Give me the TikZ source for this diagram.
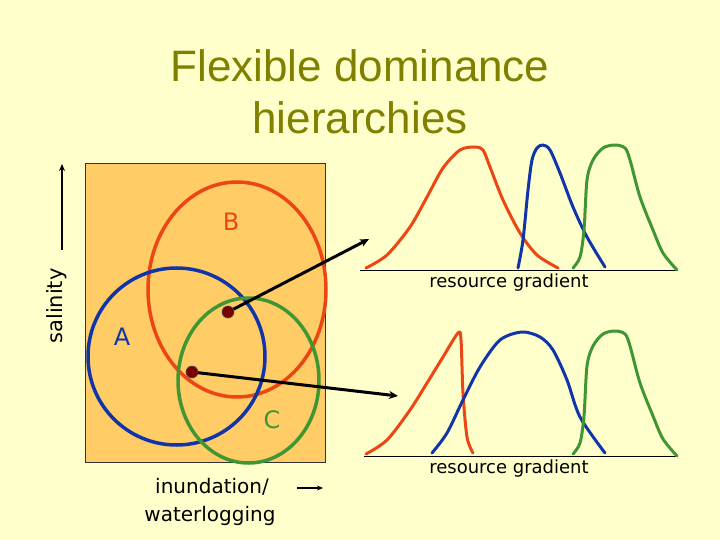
\documentclass[tikz,border=0pt]{standalone}
\usepackage{fontspec}
\setmainfont{Liberation Sans}
\newfontfamily\lblfont{DejaVu Sans}
\usetikzlibrary{arrows.meta}
\definecolor{bgyellow}{RGB}{255,255,204}
\definecolor{boxorange}{RGB}{255,204,102}
\definecolor{cred}{RGB}{236,70,20}
\definecolor{cblue}{RGB}{16,52,170}
\definecolor{cgreen}{RGB}{64,150,50}
\definecolor{olive}{RGB}{128,128,0}
\definecolor{dotred}{RGB}{120,0,0}
\tikzset{
  curve/.style={line width=3pt, line cap=round, line join=round},
  niche/.style={line width=3.5pt},
  pointer/.style={line width=3pt, -{Stealth[length=9pt,width=8pt]}},
  lbl/.style={font=\lblfont\fontsize{18}{20}\selectfont, inner sep=0pt},
  letter/.style={font=\lblfont\fontsize{24}{26}\selectfont, inner sep=0pt},
  sitedot/.style={circle, fill=dotred, draw=black!70, line width=0.6pt, minimum size=12pt, inner sep=0pt},
}
\begin{document}
\begin{tikzpicture}[x=1pt,y=-1pt]
\fill[bgyellow] (0,0) rectangle (720,540);
\useasboundingbox (0,0) rectangle (720,540);
% title
\node[anchor=base, text=olive, font=\fontsize{44}{50}\selectfont, inner sep=0pt] (t1) at (360,82) {Flexible dominance};
\node[anchor=base, text=olive, font=\fontsize{44}{50}\selectfont, inner sep=0pt] (t2) at (360,134) {hierarchies};
% habitat box
\draw[fill=boxorange, draw=black!80, line width=0.8pt] (85,163) rectangle (325,462);
% niches
\draw[cred, niche] (237,289.5) ellipse [x radius=89, y radius=107.5];
\draw[cblue, niche] (176.5,356.5) ellipse [x radius=88.5, y radius=88.5];
\draw[cgreen, niche] (248.5,380.5) ellipse [x radius=70.5, y radius=82.5];
\node[letter, text=cred] (B) at (231,222) {B};
\node[letter, text=cblue] (A) at (122,337) {A};
\node[letter, text=cgreen] (C) at (272,420) {C};
% sites and arrows
\coordinate (e1) at (369,239);
\coordinate (e2) at (398,396);
\draw[pointer] (228,312) -- (e1);
\draw[pointer] (192,372) -- (e2);
\node[sitedot] (s1) at (228,312) {};
\node[sitedot] (s2) at (192,372) {};
% salinity
\node[lbl, rotate=90, font=\lblfont\fontsize{21}{24}\selectfont] (sal) at (57,306) {salinity};
\coordinate (sa0) at (62,250);
\coordinate (sa1) at (62,164);
\draw[line width=1.8pt, -{Stealth[length=7pt,width=6pt]}] (sa0) -- (sa1);
% inundation
\node[lbl, anchor=base, font=\lblfont\fontsize{20}{22}\selectfont] (inu) at (212,493) {inundation/};
\node[lbl, anchor=base, font=\lblfont\fontsize{20}{22}\selectfont] (wat) at (210,521) {waterlogging};
\coordinate (ia0) at (297,488);
\coordinate (ia1) at (323,488);
\draw[line width=1.5pt, -{Stealth[length=6pt,width=5pt]}] (ia0) -- (ia1);
% top graph
\coordinate (ax1a) at (360,270);
\coordinate (ax1b) at (676,270);
\draw[line width=1pt] (ax1a) -- (ax1b);
\node[lbl, anchor=base] (rg1) at (509,287) {resource gradient};
\draw[curve, cred] plot[smooth, tension=0.5] coordinates {(366,268) (387,255) (410,227) (427,197) (443,168) (460,150) (475,147) (483,150) (490,167) (503,200) (520,233) (537,255) (558,268)};
\draw[curve, cblue] plot[smooth, tension=0.5] coordinates {(518,268) (523,240) (528,190) (532,160) (537,148) (543,145) (550,150) (560,173) (573,207) (587,237) (605,267)};
\draw[curve, cgreen] plot[smooth, tension=0.5] coordinates {(573,268) (580,257) (584,230) (587,180) (593,160) (603,148) (615,145) (625,148) (630,160) (640,197) (653,230) (663,253) (677,270)};
% bottom graph
\coordinate (ax2a) at (364,456);
\coordinate (ax2b) at (676,456);
\draw[line width=1pt] (ax2a) -- (ax2b);
\node[lbl, anchor=base] (rg2) at (509,473) {resource gradient};
\draw[curve, cred] plot[smooth, tension=0.5] coordinates {(366,454) (387,440) (410,410) (427,383) (443,357) (458,333) (461,340) (463,393) (467,437) (473,453)};
\draw[curve, cblue] plot[smooth, tension=0.5] coordinates {(432,453) (447,433) (463,400) (480,367) (500,340) (522,332) (540,337) (553,350) (567,380) (580,417) (605,453)};
\draw[curve, cgreen] plot[smooth, tension=0.5] coordinates {(573,454) (580,443) (584,416) (587,366) (593,346) (603,334) (615,331) (625,334) (630,346) (640,383) (653,416) (663,439) (677,456)};
\end{tikzpicture}
\end{document}
